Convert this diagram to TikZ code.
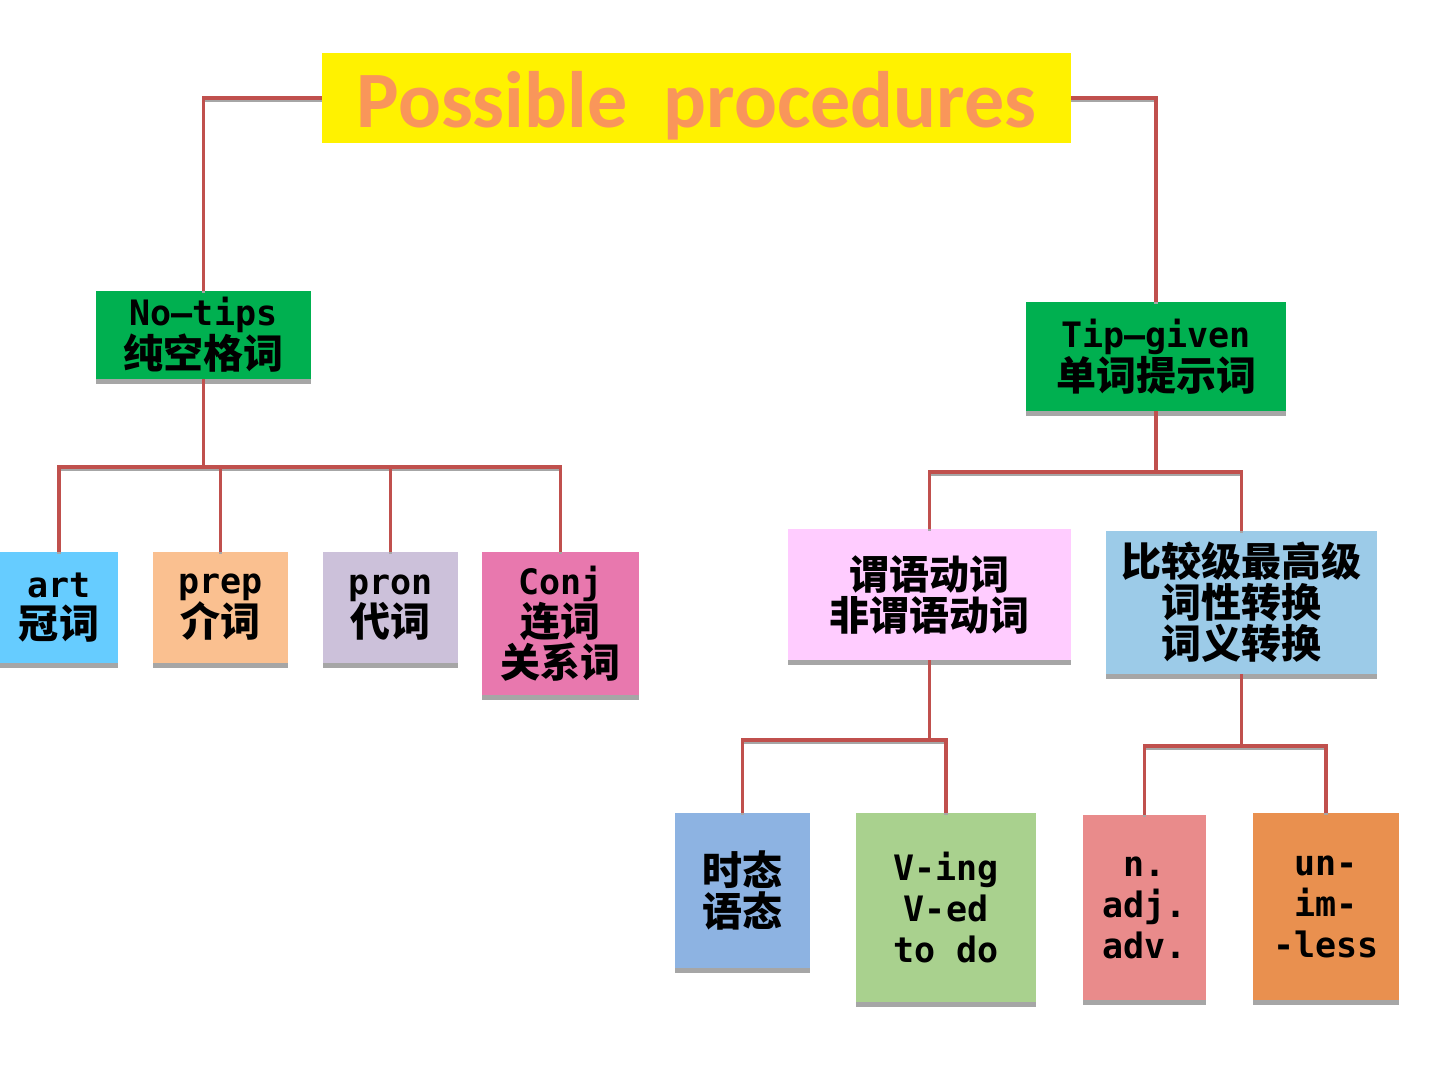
\documentclass[tikz,border=0pt]{standalone}
\usepackage{fontspec}
\usepackage{xcolor}
\usepackage{tikz}
\usetikzlibrary{shadows,calc}

\newfontfamily\cjk{Noto Sans CJK SC}
\newfontfamily\lat{DejaVu Sans Mono}
\newfontfamily\titlefont{Carlito}
\newcommand{\en}[1]{{\lat\bfseries\fontsize{35}{41}\selectfont #1}}

\definecolor{linkred}{HTML}{C0504D}
\definecolor{tipgreen}{HTML}{00B050}
\definecolor{titleorange}{HTML}{F9965A}
\definecolor{artblue}{HTML}{66CCFF}
\definecolor{prepcol}{HTML}{FAC090}
\definecolor{proncol}{HTML}{CCC1DA}
\definecolor{conjcol}{HTML}{E878AE}
\definecolor{verbcol}{HTML}{FFCCFF}
\definecolor{compcol}{HTML}{9CCBE8}
\definecolor{tensecol}{HTML}{8DB3E2}
\definecolor{nonfcol}{HTML}{A9D18E}
\definecolor{poscol}{HTML}{E98B8B}
\definecolor{affixcol}{HTML}{E9904F}

\begin{document}
\begin{tikzpicture}[x=1pt, y=-1pt,
        box/.style={rectangle, inner sep=0pt, align=center,
            font=\cjk\bfseries\fontsize{40}{41}\selectfont,
            general shadow={fill=black!35, shadow yshift=-5pt}},
        link/.style={draw=linkred, line width=3.5pt,
            preaction={draw=black!35, line width=3.5pt, transform canvas={yshift=-2pt}}}
    ]

    \useasboundingbox (0,0) rectangle (1440,1080);

    % Title
    \node[rectangle, fill=yellow, minimum width=749pt, minimum height=90pt, inner sep=0pt,
        text=titleorange, font=\titlefont\bfseries\fontsize{80}{80}\selectfont]
        (title) at (696.5,98) {\raisebox{-8pt}[\height][\depth]{Possible\ \ procedures}};

    % Two kinds of blanks
    \node[box, fill=tipgreen, minimum width=215pt, minimum height=88pt] (notips) at (203.5,335)
        {\en{No–tips}\\纯空格词};
    \node[box, fill=tipgreen, minimum width=260pt, minimum height=109pt] (tipgiven) at (1156,356.5)
        {\en{Tip–given}\\单词提示词};

    % No-tips: word classes
    \node[box, fill=artblue, minimum width=118pt, minimum height=111pt] (art) at (59,607.5) {\en{art}\\冠词};
    \node[box, fill=prepcol, minimum width=135pt, minimum height=111pt] (prep) at (220.5,607.5) {\en{prep}\\介词};
    \node[box, fill=proncol, minimum width=135pt, minimum height=111pt] (pron) at (390.5,607.5) {\en{pron}\\代词};
    \node[box, fill=conjcol, minimum width=157pt, minimum height=143pt] (conj) at (560.5,623.5) {\en{Conj}\\连词\\关系词};

    % Tip-given: verbs and word formation
    \node[box, fill=verbcol, minimum width=283pt, minimum height=131pt] (verb) at (929.5,594.5)
        {谓语动词\\非谓语动词};
    \node[box, fill=compcol, minimum width=271pt, minimum height=143pt] (comp) at (1241.5,602.5)
        {比较级最高级\\词性转换\\词义转换};

    % Bottom row
    \node[box, fill=tensecol, minimum width=135pt, minimum height=155pt] (tense) at (742.5,890.5) {时态\\语态};
    \node[box, fill=nonfcol, minimum width=180pt, minimum height=189pt] (nonfinite) at (946,907.5)
        {\en{V-ing}\\\en{V-ed}\\\en{to do}};
    \node[box, fill=poscol, minimum width=123pt, minimum height=185pt] (pos) at (1144.5,907.5)
        {\en{n.}\\\en{adj.}\\\en{adv.}};
    \node[box, fill=affixcol, minimum width=146pt, minimum height=187pt] (affix) at (1326,906.5)
        {\en{un-}\\\en{im-}\\\en{-less}};

    % Bus points
    \coordinate (lbus) at (203.5,467);
    \coordinate (rbus) at (1156,472);
    \coordinate (vbus) at (929.5,740);
    \coordinate (cbus) at (1241.5,746);

    % Connectors from the title
    \draw[link] (title.west) -| (notips.north);
    \draw[link] (title.east) -| (tipgiven.north);

    % Left tree
    \draw[link] (notips.south) -- (lbus);
    \draw[link] (art.north) |- (lbus) -| (conj.north);
    \draw[link] (prep.north) -- (prep.north |- lbus);
    \draw[link] (pron.north) -- (pron.north |- lbus);

    % Right tree
    \draw[link] (tipgiven.south) -- (rbus);
    \draw[link] (verb.north) |- (rbus) -| (comp.north);
    \draw[link] (verb.south) -- (vbus);
    \draw[link] (tense.north) |- (vbus) -| (nonfinite.north);
    \draw[link] (comp.south) -- (cbus);
    \draw[link] (pos.north) |- (cbus) -| (affix.north);

\end{tikzpicture}
\end{document}
